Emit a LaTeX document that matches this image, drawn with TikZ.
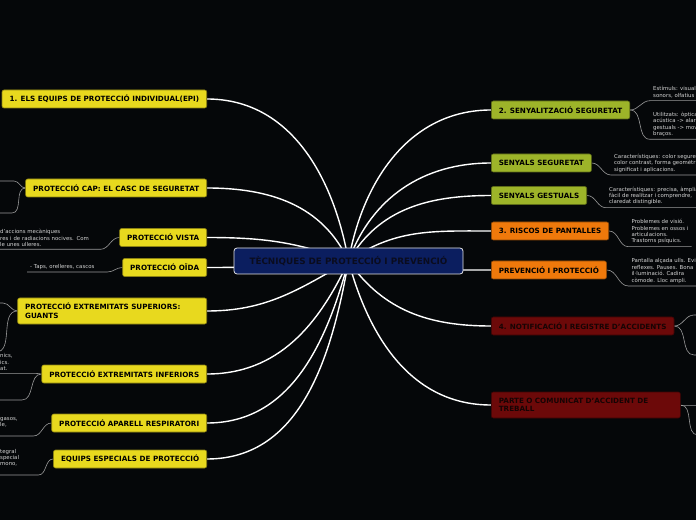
\documentclass[tikz,border=0pt]{standalone}
\usepackage{fontspec}
\setmainfont{DejaVu Sans}
\usetikzlibrary{backgrounds}

\definecolor{mapback}{HTML}{050709}
\definecolor{epiyellow}{HTML}{E8D91E}
\definecolor{epiedge}{HTML}{8C8212}
\definecolor{senygreen}{HTML}{9DB429}
\definecolor{senyedge}{HTML}{5E6C18}
\definecolor{riscorange}{HTML}{EF790B}
\definecolor{riscedge}{HTML}{8E4806}
\definecolor{notired}{HTML}{6C0909}
\definecolor{notiedge}{HTML}{3E0505}
\definecolor{notitext}{HTML}{160404}
\definecolor{hubnavy}{HTML}{0B1E5F}
\definecolor{hubedge}{HTML}{E6E6E6}
\definecolor{hubtext}{HTML}{0A0C1E}
\definecolor{leafgray}{HTML}{D4D4D4}
\definecolor{twiggray}{HTML}{9A9A9A}

\begin{document}
\begin{tikzpicture}[
    x=1pt, y=1pt,
    topic/.style={draw, rounded corners=2pt, line width=0.6pt, minimum height=18pt,
        inner xsep=7.5pt, inner ysep=2pt, text=black,
        font=\bfseries\fontsize{7.2}{8.6}\selectfont},
    epibox/.style={topic, fill=epiyellow, draw=epiedge, anchor=east},
    senybox/.style={topic, fill=senygreen, draw=senyedge, anchor=west},
    riscbox/.style={topic, fill=riscorange, draw=riscedge, anchor=west},
    notibox/.style={topic, fill=notired, draw=notiedge, text=notitext, anchor=west},
    leaf/.style={anchor=south west, align=left, inner xsep=3pt, inner ysep=2.5pt,
        text=leafgray, font=\fontsize{5.4}{6.4}\selectfont},
    trunk/.style={draw=white, line width=1.4pt},
    twig/.style={draw=twiggray, line width=0.6pt}
]
\useasboundingbox (0,0) rectangle (696,520);
\clip (0,0) rectangle (696,520);

% central topic
\node[draw=hubedge, fill=hubnavy, text=hubtext, rounded corners=3pt, line width=0.8pt,
    minimum width=229pt, minimum height=26pt,
    font=\bfseries\fontsize{8.8}{10}\selectfont] (hub) at (348.5,259) {TÈCNIQUES DE PROTECCIÓ I PREVENCIÓ};

% left topics
\node[epibox] (epi) at (207,421) {1. ELS EQUIPS DE PROTECCIÓ INDIVIDUAL(EPI)};
\node[epibox] (cap) at (207,332) {PROTECCIÓ CAP: EL CASC DE SEGURETAT};
\node[epibox] (vista) at (207,282.5) {PROTECCIÓ VISTA};
\node[epibox] (oida) at (207,252.5) {PROTECCIÓ OÏDA};
\node[epibox, text width=174pt, align=left, minimum height=26pt] (guants) at (207,209) {PROTECCIÓ EXTREMITATS SUPERIORS:\\GUANTS};
\node[epibox] (inferiors) at (207,146) {PROTECCIÓ EXTREMITATS INFERIORS};
\node[epibox] (respira) at (207,97) {PROTECCIÓ APARELL RESPIRATORI};
\node[epibox] (especials) at (207,61) {EQUIPS ESPECIALS DE PROTECCIÓ};

% right topics
\node[senybox] (senyal) at (491,410) {2. SENYALITZACIÓ SEGURETAT};
\node[senybox] (senyseg) at (491,357) {SENYALS SEGURETAT};
\node[senybox] (senygest) at (491,324.5) {SENYALS GESTUALS};
\node[riscbox] (riscos) at (491,289) {3. RISCOS DE PANTALLES};
\node[riscbox] (prevencio) at (491,250) {PREVENCIÓ I PROTECCIÓ};
\node[notibox] (noti) at (491,194) {4. NOTIFICACIÓ I REGISTRE D’ACCIDENTS};
\node[notibox, text width=174pt, align=left, minimum height=26pt] (parte) at (491,115) {PARTE O COMUNICAT D’ACCIDENT DE\\TREBALL};

% leaves
\node[leaf, text width=97pt] (vistaleaf) at (-3,270.7) {d'accions mecàniques\\res i de radiacions nocives. Com\\le unes ulleres.};
\node[leaf, text width=74pt] (oidaleaf) at (27,248) {- Taps, orelleres, cascos};
\node[leaf, text width=32pt] (infleaf) at (-3,146.7) {nics,\\ics.\\at.};
\node[leaf, text width=30pt] (respleaf) at (-3,84) {gasos,\\le,\\\mbox{}};
\node[leaf, text width=35pt] (espleaf) at (-3,45) {tegral\\special\\mono,\\\mbox{}};

\node[leaf] (senyalA) at (650,419.3) {Estímuls: visuals,\\sonors, olfatius};
\node[leaf] (senyalB) at (650,380.7) {Utilitzats: òptica\\acústica -> alarmes\\gestuals -> moviments\\braços.};
\node[leaf] (senysegleaf) at (611,345) {Característiques: color seguretat,\\color contrast, forma geomètrica,\\significat i aplicacions.};
\node[leaf] (senygestleaf) at (606,312.3) {Característiques: precisa, àmplia,\\fàcil de realitzar i comprendre,\\claredat distingible.};
\node[leaf] (riscleaf) at (628.5,273.3) {Problemes de visió.\\Problemes en ossos i\\articulacions.\\Trastorns psíquics.};
\node[leaf] (prevleaf) at (628.5,234) {Pantalla alçada ulls. Evitar\\reflexes. Pauses. Bona\\il·luminació. Cadira\\còmode. Lloc ampli.};

% leaves outside the frame
\coordinate (capA) at (14,339);      \coordinate (capAend) at (-60,339);
\coordinate (capB) at (12,307);      \coordinate (capBend) at (-60,307);
\coordinate (guantsA) at (3,217);    \coordinate (guantsAend) at (-60,217);
\coordinate (guantsB) at (-4,168);   \coordinate (guantsBend) at (-60,168);
\coordinate (infB) at (22,120);      \coordinate (infBend) at (-60,120);
\coordinate (notiA) at (694,205);    \coordinate (notiAend) at (760,205);
\coordinate (notiB) at (694,165);    \coordinate (notiBend) at (760,165);
\coordinate (parteA) at (698,115);   \coordinate (parteAend) at (760,115);
\coordinate (parteB) at (698,85);    \coordinate (parteBend) at (760,85);

\begin{pgfonlayer}{background}
\fill[mapback] (0,0) rectangle (696,520);

% main branches
\draw[trunk] (hub.center) to[out=100,in=0] (epi.east);
\draw[trunk] (hub.center) to[out=115,in=0] (cap.east);
\draw[trunk] (hub.center) to[out=160,in=0] (vista.east);
\draw[trunk] (hub.center) to[out=185,in=0] (oida.east);
\draw[trunk] (hub.center) to[out=-150,in=0] (guants.east);
\draw[trunk] (hub.center) to[out=-115,in=0] (inferiors.east);
\draw[trunk] (hub.center) to[out=-105,in=0] (respira.east);
\draw[trunk] (hub.center) to[out=-100,in=0] (especials.east);
\draw[trunk] (hub.center) to[out=80,in=180] (senyal.west);
\draw[trunk] (hub.center) to[out=70,in=180] (senyseg.west);
\draw[trunk] (hub.center) to[out=60,in=180] (senygest.west);
\draw[trunk] (hub.center) to[out=35,in=180] (riscos.west);
\draw[trunk] (hub.center) to[out=-10,in=180] (prevencio.west);
\draw[trunk] (hub.center) to[out=-55,in=180] (noti.west);
\draw[trunk] (hub.center) to[out=-75,in=180] (parte.west);

% sub branches
\draw[twig] (cap.west) to[out=180,in=0] (capA) -- (capAend);
\draw[twig] (cap.west) to[out=180,in=0] (capB) -- (capBend);
\draw[twig] (vista.west) to[out=180,in=0] (vistaleaf.south east) -- (vistaleaf.south west);
\draw[twig] (oida.west) to[out=180,in=0] (oidaleaf.south east) -- (oidaleaf.south west);
\draw[twig] (guants.west) to[out=180,in=0] (guantsA) -- (guantsAend);
\draw[twig] (guants.west) to[out=180,in=0] (guantsB) -- (guantsBend);
\draw[twig] (inferiors.west) to[out=180,in=0] (infleaf.south east) -- (infleaf.south west);
\draw[twig] (inferiors.west) to[out=180,in=0] (infB) -- (infBend);
\draw[twig] (respira.west) to[out=180,in=0] (respleaf.south east) -- (respleaf.south west);
\draw[twig] (especials.west) to[out=180,in=0] (espleaf.south east) -- (espleaf.south west);

\draw[twig] (senyal.east) to[out=0,in=180] (senyalA.south west) -- (senyalA.south east);
\draw[twig] (senyal.east) to[out=0,in=180] (senyalB.south west) -- (senyalB.south east);
\draw[twig] (senyseg.east) to[out=0,in=180] (senysegleaf.south west) -- (senysegleaf.south east);
\draw[twig] (senygest.east) to[out=0,in=180] (senygestleaf.south west) -- (senygestleaf.south east);
\draw[twig] (riscos.east) to[out=0,in=180] (riscleaf.south west) -- (riscleaf.south east);
\draw[twig] (prevencio.east) to[out=0,in=180] (prevleaf.south west) -- (prevleaf.south east);
\draw[twig] (noti.east) to[out=0,in=180] (notiA) -- (notiAend);
\draw[twig] (noti.east) to[out=0,in=180] (notiB) -- (notiBend);
\draw[twig] (parte.east) to[out=0,in=180] (parteA) -- (parteAend);
\draw[twig] (parte.east) to[out=0,in=180] (parteB) -- (parteBend);
\end{pgfonlayer}
\end{tikzpicture}
\end{document}
